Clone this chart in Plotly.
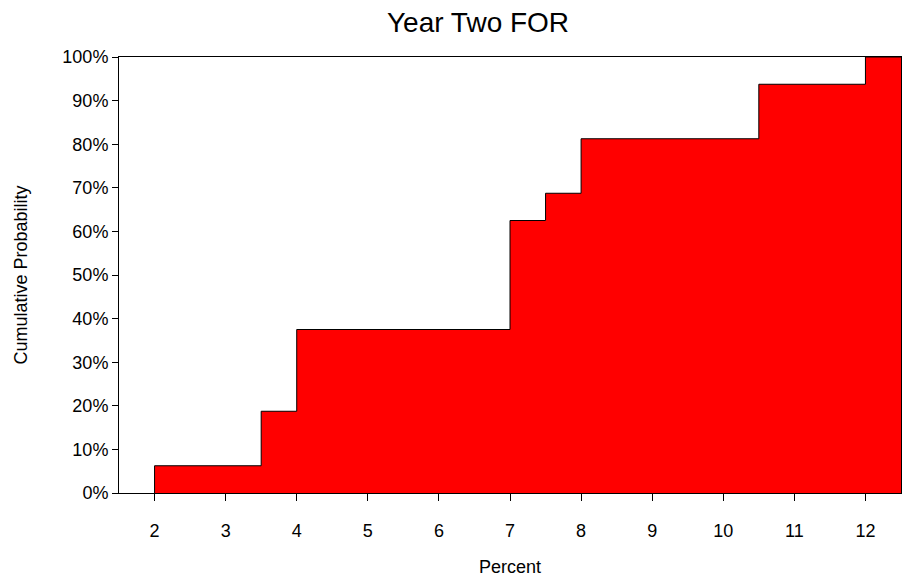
import plotly.graph_objects as go

# Data: sorted sample values (Percent) and cumulative probability (%) at each step
step_x = [2, 3.5, 4, 7, 7.5, 8, 10.5, 12]
cum_prob = [6.25, 18.75, 37.5, 62.5, 68.75, 81.25, 93.75, 100]
x_range = [1.5, 12.5]
y_ticks = [0, 10, 20, 30, 40, 50, 60, 70, 80, 90, 100]
y_tick_labels = ["0%", "10%", "20%", "30%", "40%", "50%", "60%", "70%", "80%", "90%", "100%"]
x_ticks = [2, 3, 4, 5, 6, 7, 8, 9, 10, 11, 12]

xs = [step_x[0]] + step_x + [x_range[1]]
ys = [0] + cum_prob + [cum_prob[-1]]

fig = go.Figure()
fig.add_trace(go.Scatter(
    x=xs, y=ys, mode="lines", line_shape="hv",
    line=dict(color="black", width=1),
    fill="tozeroy", fillcolor="#ff0000",
    hoverinfo="skip", showlegend=False,
))

font = "Liberation Sans, Arial, sans-serif"
fig.update_layout(
    width=902, height=577,
    margin=dict(l=119, r=1, t=57, b=84, autoexpand=False),
    paper_bgcolor="white", plot_bgcolor="white",
    title=dict(text="Year Two FOR", x=0.53, xanchor="center", y=0.962, yanchor="middle",
               font=dict(family=font, size=28, color="black")),
    font=dict(family=font, color="black"),
    xaxis=dict(range=x_range, tickvals=x_ticks, ticks="outside", ticklen=7,
               tickcolor="black", showgrid=False, zeroline=False, automargin=False,
               showline=True, linecolor="black", linewidth=1, mirror=True,
               tickfont=dict(size=18), ticklabelstandoff=14,
               title=dict(text="Percent", font=dict(size=18), standoff=26)),
    yaxis=dict(range=[0, 100], tickvals=y_ticks, ticktext=y_tick_labels, ticks="outside",
               ticklen=6, tickcolor="black", showgrid=False, zeroline=False, automargin=False,
               showline=True, linecolor="black", linewidth=1, mirror=True,
               tickfont=dict(size=18),
               title=dict(text="Cumulative Probability", font=dict(size=18), standoff=30)),
)

fig.write_html("out.html", config={"displayModeBar": False},
               post_script="document.body.style.margin='0';")
